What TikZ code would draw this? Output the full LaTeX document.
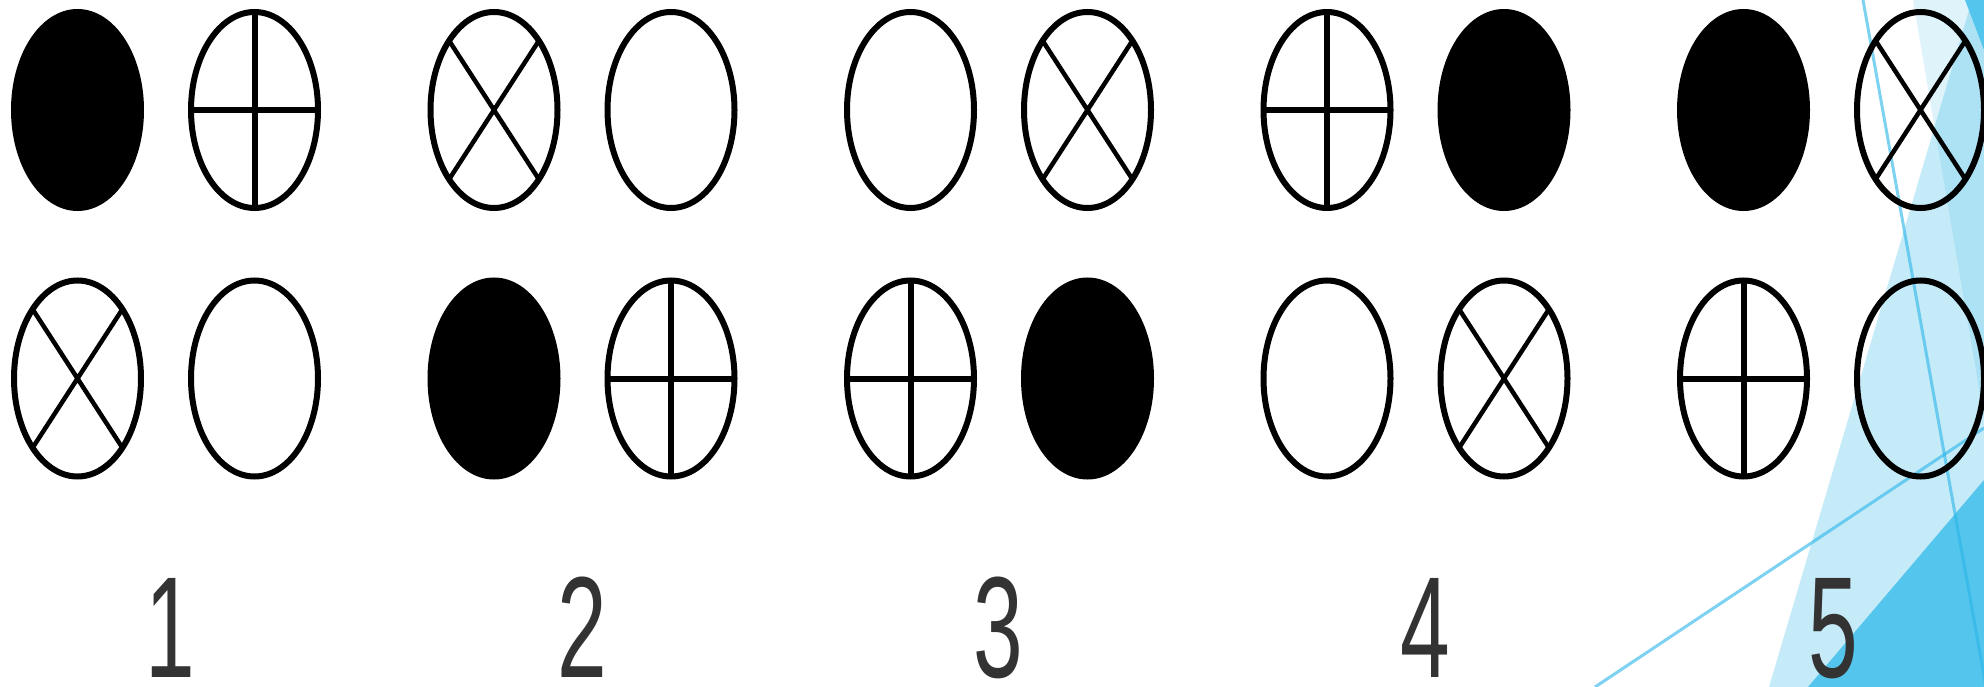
\documentclass[tikz,border=0pt]{standalone}
\usepackage{fontspec}
\setmainfont{Liberation Sans}
\usepackage{tikz}
\usetikzlibrary{shapes.geometric,calc}
\usepackage{xcolor}
\definecolor{facet}{RGB}{41,181,232}
\definecolor{facetdark}{RGB}{84,197,236}
\definecolor{numgray}{RGB}{51,51,51}

\begin{document}
\begin{tikzpicture}[x=1pt,y=-1pt,
  egg/.style={ellipse,draw=black,line width=6pt,minimum width=127pt,minimum height=196pt,inner sep=0pt},
  solidegg/.style={egg,fill=black},
  plainegg/.style={egg},
  plusegg/.style={egg,path picture={
    \draw[line width=6pt] (path picture bounding box.north) -- (path picture bounding box.south)
      (path picture bounding box.west) -- (path picture bounding box.east);}},
  crossegg/.style={egg,path picture={
    \draw[line width=4.5pt]
      ($(path picture bounding box.center)!0.707!(path picture bounding box.north east)$) --
      ($(path picture bounding box.center)!0.707!(path picture bounding box.south west)$)
      ($(path picture bounding box.center)!0.707!(path picture bounding box.north west)$) --
      ($(path picture bounding box.center)!0.707!(path picture bounding box.south east)$);}},
  digit/.style={text=numgray,font=\fontsize{144}{144}\selectfont,xscale=0.62,anchor=base,inner sep=0pt}]
\useasboundingbox (0,0) rectangle (1984,687);
\clip (0,0) rectangle (1984,687);
\fill[white] (0,0) rectangle (1984,687);
% corner decoration
\fill[facet,fill opacity=0.15] (1913,0) -- (1984,0) -- (1984,418) -- cycle;
\fill[facet,fill opacity=0.27] (1769,687) -- (1972,0) -- (1984,0) -- (1984,687) -- cycle;
\fill[facetdark] (1808,687) -- (1984,480) -- (1984,687) -- cycle;
\fill[facetdark] (1965,0) -- (1984,0) -- (1984,50) -- cycle;
\draw[facet,draw opacity=0.6,line width=3pt] (1863,0) -- (1986,687);
\draw[facet,draw opacity=0.6,line width=3pt] (1595,687) -- (1984,428);
% symbol pairs
\foreach \k/\nx/\ta/\tb/\tc/\td in {1/170/solidegg/plusegg/crossegg/plainegg,
    2/582/crossegg/plainegg/solidegg/plusegg,
    3/998/plainegg/crossegg/plusegg/solidegg,
    4/1425/plusegg/solidegg/plainegg/crossegg,
    5/1833/solidegg/crossegg/plusegg/plainegg}{
  \node[\ta] (top\k a) at ({77.5+416.5*(\k-1)},110) {};
  \node[\tb] (top\k b) at ({254.5+416.5*(\k-1)},110) {};
  \node[\tc] (bot\k a) at ({77.5+416.5*(\k-1)},378.5) {};
  \node[\td] (bot\k b) at ({254.5+416.5*(\k-1)},378.5) {};
  \node[digit] (num\k) at (\nx,677) {\k};
}
\end{tikzpicture}
\end{document}
